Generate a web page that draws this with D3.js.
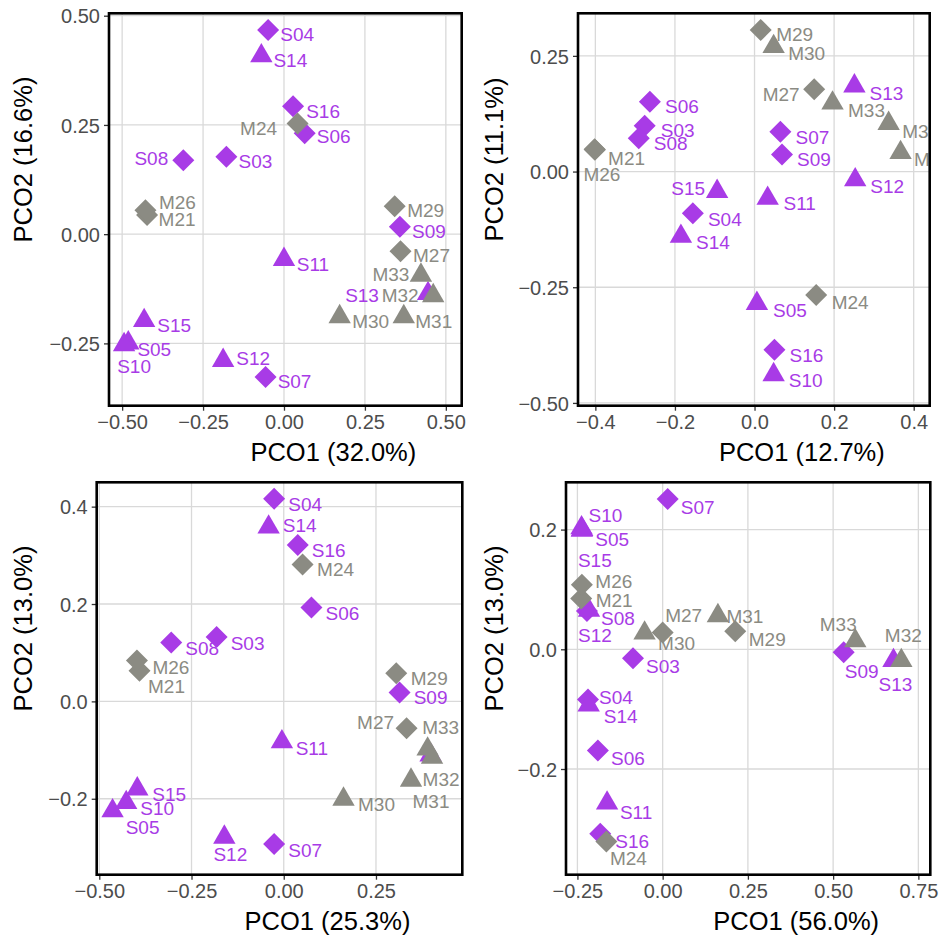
<!DOCTYPE html>
<html>
<head>
<meta charset="utf-8">
<script src="https://cdn.jsdelivr.net/npm/d3@7"></script>
<style>
  body { margin: 0; background: #fff; }
  text { font-family: "Liberation Sans", Arial, sans-serif; }
</style>
</head>
<body>
<svg id="chart" width="944" height="938"></svg>
<script>
// samples, same order in every panel
const samples = ["S03","S04","S05","S06","S07","S08","S09","S10","S11","S12","S13","S14","S15","S16",
                 "M21","M24","M26","M27","M29","M30","M31","M32","M33"];
const shapes = ["d","d","t","d","d","d","d","t","t","t","t","t","t","d",
                "d","d","d","d","d","t","t","t","t"];

// panel 1
const p1x = [-0.178,-0.049,-0.481,0.064,-0.057,-0.311,0.358,-0.494,0.000,-0.188,0.445,-0.070,-0.432,0.028,
             -0.423,0.042,-0.428,0.360,0.342,0.172,0.370,0.461,0.423];
const p1y = [0.177,0.467,-0.249,0.231,-0.327,0.169,0.017,-0.253,-0.058,-0.289,-0.136,0.408,-0.198,0.293,
             0.044,0.253,0.055,-0.039,0.064,-0.189,-0.189,-0.141,-0.094];
// panel 2
const p2x = [-0.276,-0.155,0.006,-0.263,0.065,-0.291,0.069,0.048,0.033,0.253,0.251,-0.185,-0.094,0.050,
             -0.402,0.155,-0.401,0.150,0.0155,0.048,0.337,0.367,0.196];
const p2y = [0.099,-0.090,-0.285,0.151,0.086,0.072,0.037,-0.439,-0.058,-0.018,0.185,-0.140,-0.043,-0.385,
             0.048,-0.267,0.047,0.178,0.306,0.270,0.104,0.041,0.148];
// panel 3
const p3x = [-0.182,-0.026,-0.464,0.075,-0.026,-0.305,0.314,-0.427,-0.005,-0.161,0.398,-0.041,-0.397,0.038,
             -0.391,0.051,-0.398,0.333,0.305,0.162,0.345,0.402,0.390];
const p3y = [0.132,0.416,-0.225,0.193,-0.293,0.121,0.018,-0.208,-0.083,-0.279,-0.110,0.358,-0.180,0.321,
             0.063,0.281,0.084,-0.055,0.058,-0.201,-0.162,-0.115,-0.098];
// panel 4
const p4x = [-0.087,-0.219,-0.236,-0.190,0.0147,-0.222,0.531,-0.238,-0.163,-0.216,0.677,-0.217,-0.237,-0.183,
             -0.239,-0.165,-0.237,0.000,0.213,-0.053,0.162,0.700,0.565];
const p4y = [-0.015,-0.084,0.200,-0.169,0.251,0.064,-0.005,0.203,-0.257,0.065,-0.019,-0.093,0.199,-0.308,
             0.085,-0.321,0.108,0.028,0.030,0.027,0.056,-0.019,0.014];

const xTitles = ["PCO1 (32.0%)", "PCO1 (12.7%)", "PCO1 (25.3%)", "PCO1 (56.0%)"];
const yTitles = ["PCO2 (16.6%)", "PCO2 (11.1%)", "PCO2 (13.0%)", "PCO2 (13.0%)"];

const xTicks = [[-0.5,-0.25,0,0.25,0.5],[-0.4,-0.2,0,0.2,0.4],[-0.5,-0.25,0,0.25],[-0.25,0,0.25,0.5,0.75]];
const yTicks = [[-0.25,0,0.25,0.5],[-0.5,-0.25,0,0.25],[-0.2,0,0.2,0.4],[-0.2,0,0.2]];
const xDigits = [2,1,2,2];
const yDigits = [2,2,1,1];

// label nudges (px) from the point, ggrepel-like placement
const lab1 = [[29,4],[29,4],[26,6],[29,3],[29,4],[-32,-2],[29,4],[10,21],[29,5],[30,-2],[-66,2],[29,4],[30,5],[30,5],
              [30,4],[-39,5],[32,-8],[31,4],[31,4],[31,4],[30,4],[-33,-1],[-30,-1]];
const lab2 = [[33,4],[32,6],[33,7],[32,5],[32,5],[32,5],[32,5],[32,6],[32,5],[32,6],[32,7],[32,6],[-29,-3],[32,5],
              [32,9],[34,7],[7,24],[-33,5],[34,4],[33,7],[32,8],[32,7],[34,7]];
const lab3 = [[31,6],[31,5],[30,16],[31,6],[31,6],[31,6],[31,5],[31,6],[30,6],[6,17],null,[31,-2],[32,5],[31,5],
              [27,15],[33,5],[34,7],[-31,-6],[33,5],[33,5],[20,21],[9,22],[13,-22]];
const lab4 = [[30,8],[28,-2],[30,10],[30,8],[30,8],[31,7],[18,19],[24,-13],[29,9],[6,25],[2,24],[32,11],[13,30],[32,8],
              [33,2],[22,17],[32,-3],[21,-17],[32,8],[32,10],[27,0],[2,-25],[-17,-17]];

const purple = "#A83BE6";
const grey = "#8B8B83";

// layout: plot area of each panel and its axis domains
const panels = [
  {x: p1x, y: p1y, lab: lab1, box: [109, 13.3, 461.7, 405.7], xd: [-0.5406, 0.549], yd: [-0.3926, 0.5055], yt: 23.3},
  {x: p2x, y: p2y, lab: lab2, box: [578, 13.3, 929.7, 405.7], xd: [-0.4436, 0.4402], yd: [-0.506, 0.342], yt: 493.7},
  {x: p3x, y: p3y, lab: lab3, box: [96.7, 482.3, 462.3, 874.7], xd: [-0.507, 0.484], yd: [-0.356, 0.45], yt: 23.3},
  {x: p4x, y: p4y, lab: lab4, box: [566, 482.3, 930.3, 874.7], xd: [-0.2835, 0.785], yd: [-0.3766, 0.279], yt: 493.7}
];

const svg = d3.select("#chart");
const defs = svg.append("defs");

function fmt(v, d) {
  let s = Math.abs(v).toFixed(d);
  return (v < 0 ? "\u2212" : "") + s;
}

// triangle like R pch 17, diamond like pch 18
const tri = "M0,-12.9L11.2,6.45L-11.2,6.45Z";
const dia = "M0,-11L11,0L0,11L-11,0Z";

panels.forEach(function(p, i) {
  const [x0, y0, x1, y1] = p.box;
  const xScale = d3.scaleLinear().domain(p.xd).range([x0, x1]);
  const yScale = d3.scaleLinear().domain(p.yd).range([y1, y0]);

  defs.append("clipPath").attr("id", "clip" + i)
    .append("rect").attr("x", x0).attr("y", y0).attr("width", x1 - x0).attr("height", y1 - y0);

  const g = svg.append("g");

  // grid
  g.selectAll(".gx").data(xTicks[i]).enter().append("line")
    .attr("x1", d => xScale(d)).attr("x2", d => xScale(d))
    .attr("y1", y0).attr("y2", y1)
    .attr("stroke", "#D9D9D9").attr("stroke-width", 1.3);
  g.selectAll(".gy").data(yTicks[i]).enter().append("line")
    .attr("y1", d => yScale(d)).attr("y2", d => yScale(d))
    .attr("x1", x0).attr("x2", x1)
    .attr("stroke", "#D9D9D9").attr("stroke-width", 1.3);

  // axes
  const ax = g.append("g").attr("transform", `translate(0,${y1})`)
    .call(d3.axisBottom(xScale).tickValues(xTicks[i]).tickSize(5).tickPadding(4)
      .tickFormat(d => fmt(d, xDigits[i])));
  const ay = g.append("g").attr("transform", `translate(${x0},0)`)
    .call(d3.axisLeft(yScale).tickValues(yTicks[i]).tickSize(5).tickPadding(4)
      .tickFormat(d => fmt(d, yDigits[i])));
  [ax, ay].forEach(a => {
    a.select(".domain").remove();
    a.selectAll("line").attr("stroke", "#333333").attr("stroke-width", 1.3);
    a.selectAll("text").attr("fill", "#4D4D4D").style("font-size", "20px")
      .style("font-family", '"Liberation Sans", Arial, sans-serif');
  });
  ax.selectAll("text").attr("dy", "0.71em");
  ay.selectAll("text").attr("dy", "0.36em");

  // points, S group first, M on top
  const pts = samples.map((s, k) => ({name: s, shape: shapes[k], x: p.x[k], y: p.y[k], lab: p.lab[k]}));
  const pg = g.append("g").attr("clip-path", `url(#clip${i})`);
  pg.selectAll("path").data(pts).enter().append("path")
    .attr("d", d => d.shape === "t" ? tri : dia)
    .attr("transform", d => `translate(${xScale(d.x)},${yScale(d.y)})`)
    .attr("fill", d => d.name[0] === "S" ? purple : grey);

  // labels
  pg.selectAll("text").data(pts.filter(d => d.lab)).enter().append("text")
    .attr("x", d => xScale(d.x) + d.lab[0])
    .attr("y", d => yScale(d.y) + d.lab[1] + 6.8)
    .attr("text-anchor", "middle")
    .style("font-size", "19px")
    .attr("fill", d => d.name[0] === "S" ? purple : grey)
    .text(d => d.name);

  // border
  g.append("rect").attr("x", x0).attr("y", y0).attr("width", x1 - x0).attr("height", y1 - y0)
    .attr("fill", "none").attr("stroke", "#000").attr("stroke-width", 2.6);

  // titles (sit off-centre in the original, right and up)
  g.append("text")
    .attr("x", (x0 + x1) / 2 + 48).attr("y", y0 - 13.3 + 461)
    .attr("text-anchor", "middle").style("font-size", "25.5px").attr("fill", "#000")
    .text(xTitles[i]);
  g.append("text")
    .attr("transform", `translate(${p.yt + 9.1},${(y0 + y1) / 2 - 50}) rotate(-90)`)
    .attr("text-anchor", "middle").style("font-size", "25.5px").attr("fill", "#000")
    .text(yTitles[i]);
});
</script>
</body>
</html>
